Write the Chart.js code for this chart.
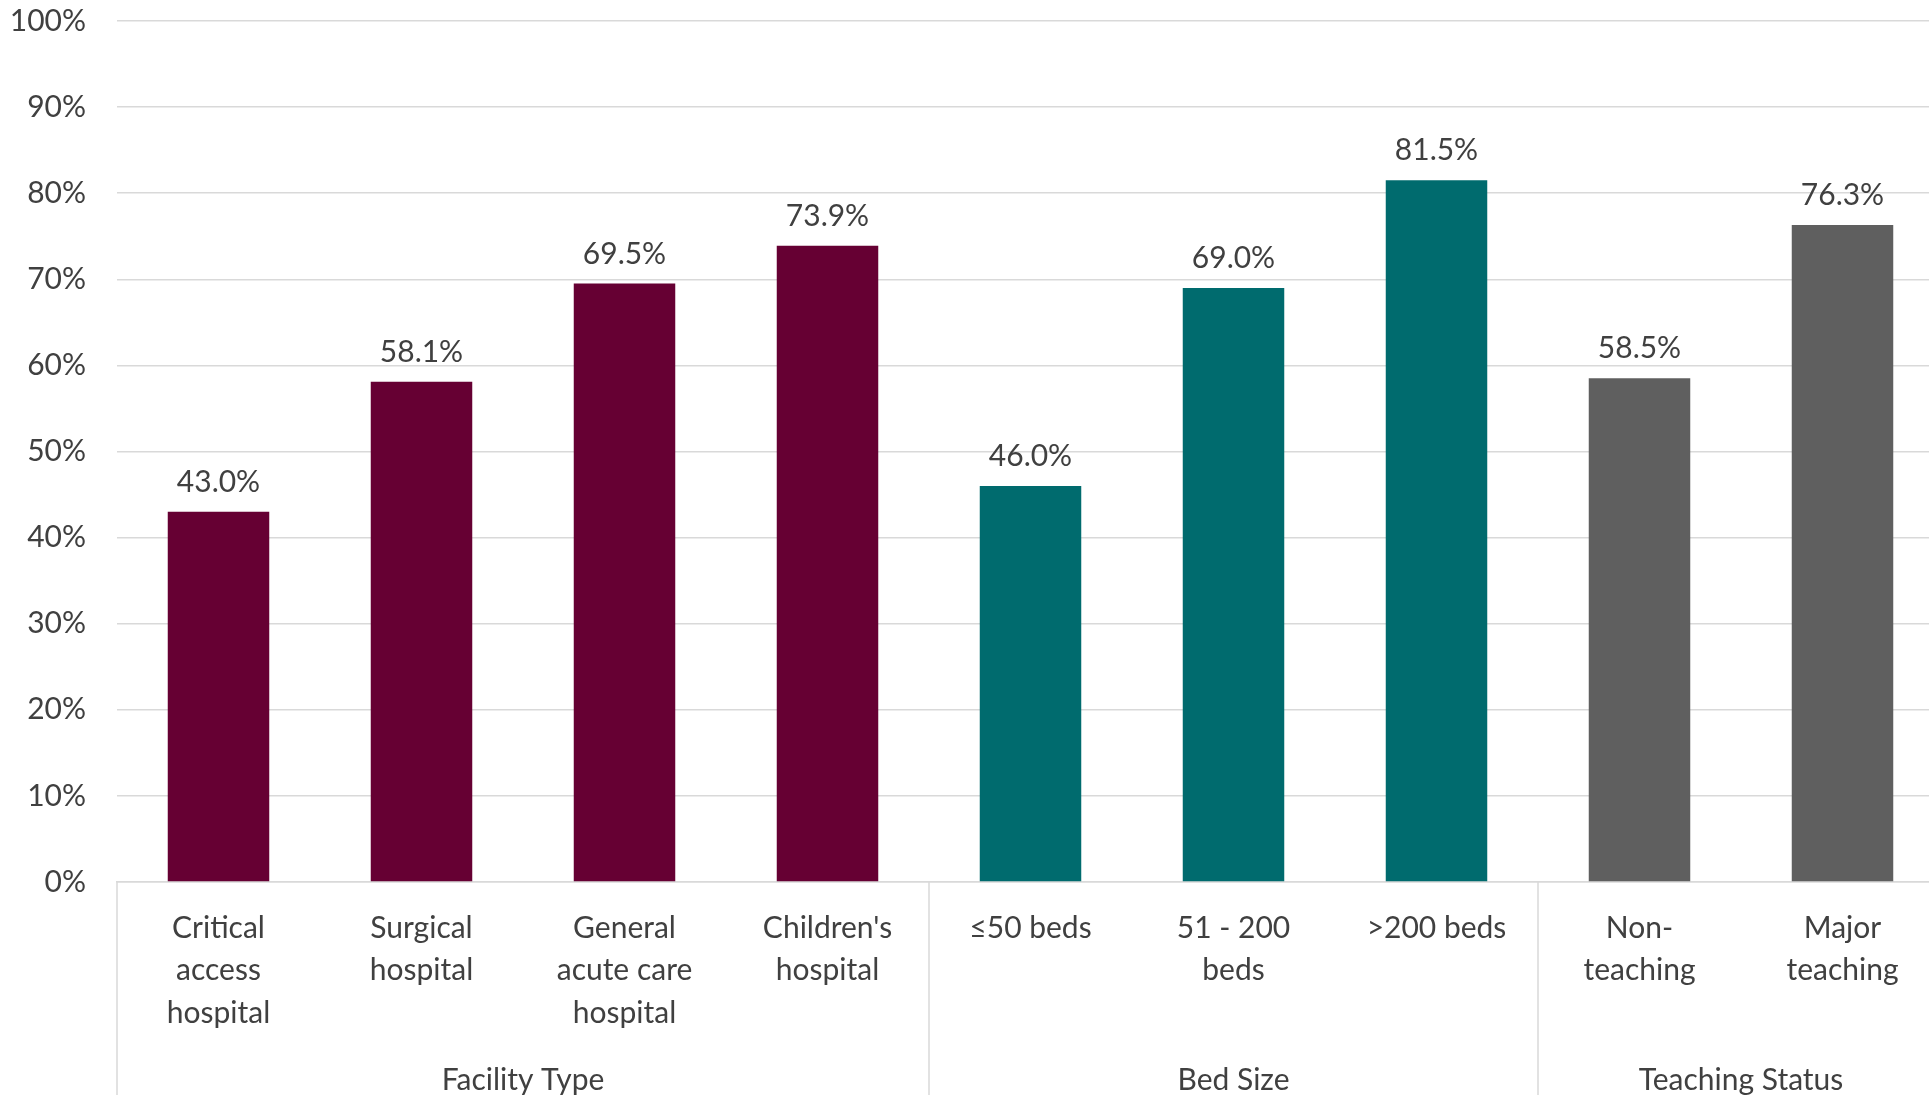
<!DOCTYPE html>
<html>
<head>
<meta charset="utf-8">
<title>Hospital share by type, bed size and teaching status</title>
<script src="https://cdn.jsdelivr.net/npm/chart.js@4/dist/chart.umd.min.js"></script>
<style>
  html, body { margin: 0; padding: 0; background: #fff; overflow: hidden; }
  canvas { display: block; }
</style>
</head>
<body>
<canvas id="barChart" width="1944" height="1095"></canvas>
<script>
// categories, one array of lines per bar
const categories = [
  ['Critical', 'access', 'hospital'],
  ['Surgical', 'hospital'],
  ['General', 'acute care', 'hospital'],
  ["Children's", 'hospital'],
  ['\u226450 beds'],
  ['51 - 200', 'beds'],
  ['>200 beds'],
  ['Non-', 'teaching'],
  ['Major', 'teaching']
];
const values = [43.0, 58.1, 69.5, 73.9, 46.0, 69.0, 81.5, 58.5, 76.3];

// outer label row
const groupNames = ['Facility Type', 'Bed Size', 'Teaching Status'];
const groupSizes = [4, 3, 2];
const groupColors = ['#660033', '#006b6e', '#5f5f5f'];

const yTicks = [0, 10, 20, 30, 40, 50, 60, 70, 80, 90, 100];

const FONT = 'Lato, "Open Sans", sans-serif';
const TEXT = '#404040';
const LINE = '#d9d9d9';

// each bar takes the colour of its group
const barColors = [];
groupSizes.forEach((n, g) => {
  for (let i = 0; i < n; i++) barColors.push(groupColors[g]);
});

// value labels above bars
const valueLabels = {
  id: 'valueLabels',
  afterDatasetsDraw(chart) {
    const ctx = chart.ctx;
    const meta = chart.getDatasetMeta(0);
    ctx.save();
    ctx.font = '30px ' + FONT;
    ctx.fillStyle = TEXT;
    ctx.textAlign = 'center';
    ctx.textBaseline = 'alphabetic';
    meta.data.forEach((bar, i) => {
      ctx.fillText(values[i].toFixed(1) + '%', bar.x, bar.y - 20);
    });
    ctx.restore();
  }
};

// group separators and group names under the category labels
const groupAxis = {
  id: 'groupAxis',
  afterDraw(chart) {
    const ctx = chart.ctx;
    const x = chart.scales.x;
    const area = chart.chartArea;
    const half = (x.getPixelForValue(1) - x.getPixelForValue(0)) / 2;
    ctx.save();
    ctx.strokeStyle = LINE;
    ctx.lineWidth = 1.5;
    ctx.font = '30px ' + FONT;
    ctx.fillStyle = TEXT;
    ctx.textAlign = 'center';
    ctx.textBaseline = 'alphabetic';
    let start = 0;
    groupNames.forEach((name, g) => {
      const end = start + groupSizes[g] - 1;
      const left = x.getPixelForValue(start) - half;
      const right = x.getPixelForValue(end) + half;
      ctx.beginPath();
      ctx.moveTo(left, area.bottom);
      ctx.lineTo(left, chart.height);
      ctx.stroke();
      ctx.fillText(name, (left + right) / 2, area.bottom + 208);
      start = end + 1;
    });
    ctx.restore();
  }
};

const ctx = document.getElementById('barChart').getContext('2d');
const chart = new Chart(ctx, {
  type: 'bar',
  data: {
    labels: categories,
    datasets: [{
      data: values,
      backgroundColor: barColors,
      borderWidth: 0,
      barPercentage: 1,
      categoryPercentage: 0.5
    }]
  },
  options: {
    responsive: false,
    animation: false,
    devicePixelRatio: 1,
    layout: { padding: { top: 21, right: 0, bottom: 0, left: 0 } },
    plugins: {
      legend: { display: false },
      tooltip: { enabled: false }
    },
    scales: {
      x: {
        grid: { display: false, drawTicks: false },
        border: { display: true, color: LINE, width: 1.5 },
        ticks: {
          color: TEXT,
          font: { family: FONT, size: 30, lineHeight: 42.5 / 30 },
          padding: 25,
          maxRotation: 0,
          autoSkip: false
        },
        afterFit(scale) { scale.height = 213; }
      },
      y: {
        min: 0,
        max: 100,
        afterBuildTicks(scale) { scale.ticks = yTicks.map(v => ({ value: v })); },
        grid: { color: LINE, lineWidth: 1.5, drawTicks: false },
        border: { display: false },
        ticks: {
          color: TEXT,
          font: { family: FONT, size: 30, lineHeight: 1.2 },
          padding: 31,
          callback: v => v + '%'
        },
        afterFit(scale) {
          scale.width = 117;
          // top gridline sits at the layout padding, not below half a label
          scale.paddingTop = 0;
          scale.paddingBottom = 0;
        }
      }
    }
  },
  plugins: [valueLabels, groupAxis]
});
</script>
</body>
</html>
